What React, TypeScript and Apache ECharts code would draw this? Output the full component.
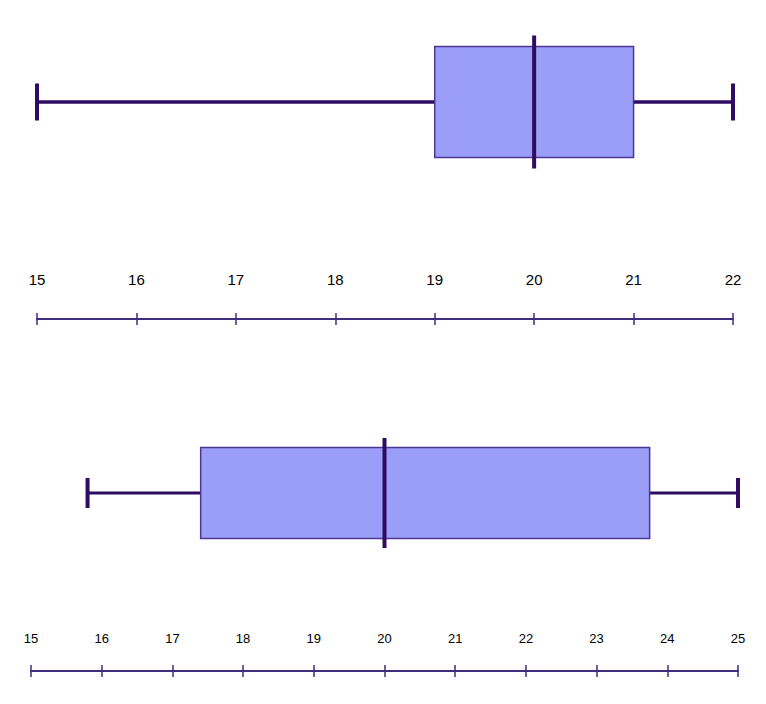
import React, { useEffect, useRef } from "react";
import * as echarts from "echarts";

// Five-number summaries: [min, q1, median, q3, max]
const topStats = [15, 19, 20, 21, 22];
const bottomStats = [15.8, 17.4, 20, 23.75, 25];
const topRange = [15, 22];
const bottomRange = [15, 25];
const categories = ["A"];

const DARK = "#2e0c62";
const FILL = "#9b9ef6";
const BOX_BORDER = "#4b3796";
const AXIS = "#3e2c7e";
const FONT = "'Liberation Sans', Arial, Helvetica, sans-serif";

function makeRender(boxH: number, capH: number, medH: number, whiskW: number) {
  return (params: any, api: any) => {
    const cat = api.value(0);
    const c = (i: number) => api.coord([api.value(i), cat]);
    const pMin = c(1), pQ1 = c(2), pMed = c(3), pQ3 = c(4), pMax = c(5);
    const y = pMin[1];
    return {
      type: "group",
      children: [
        { type: "line", shape: { x1: pMin[0], y1: y, x2: pQ1[0], y2: y }, style: { stroke: DARK, lineWidth: whiskW } },
        { type: "line", shape: { x1: pQ3[0], y1: y, x2: pMax[0], y2: y }, style: { stroke: DARK, lineWidth: whiskW } },
        { type: "line", shape: { x1: pMin[0], y1: y - capH / 2, x2: pMin[0], y2: y + capH / 2 }, style: { stroke: DARK, lineWidth: 4 } },
        { type: "line", shape: { x1: pMax[0], y1: y - capH / 2, x2: pMax[0], y2: y + capH / 2 }, style: { stroke: DARK, lineWidth: 4 } },
        { type: "rect", shape: { x: pQ1[0], y: y - boxH / 2, width: pQ3[0] - pQ1[0], height: boxH }, style: { fill: FILL, stroke: BOX_BORDER, lineWidth: 1.5 } },
        { type: "line", shape: { x1: pMed[0], y1: y - medH / 2, x2: pMed[0], y2: y + medH / 2 }, style: { stroke: DARK, lineWidth: 4 } },
      ],
    };
  };
}

function labelAxis(grid: number, range: number[], fontSize: number, margin: number) {
  return {
    gridIndex: grid, type: "value", min: range[0], max: range[1], interval: 1, position: "top",
    axisLine: { show: true, onZero: false, lineStyle: { color: AXIS, width: 2 } },
    axisTick: { show: true, length: 6, lineStyle: { color: AXIS, width: 1.5 } },
    axisLabel: { show: true, margin, fontSize, color: "#000", fontFamily: FONT },
    splitLine: { show: false },
  };
}
function tickAxis(grid: number, range: number[]) {
  return {
    gridIndex: grid, type: "value", min: range[0], max: range[1], interval: 1, position: "top",
    axisLine: { show: false, onZero: false },
    axisTick: { show: true, inside: true, length: 6, lineStyle: { color: AXIS, width: 1.5 } },
    axisLabel: { show: false },
    splitLine: { show: false },
  };
}

export default function App() {
  const ref = useRef<HTMLDivElement>(null);
  useEffect(() => {
    if (!ref.current) return;
    const chart = echarts.init(ref.current, undefined, { renderer: "svg" });
    chart.setOption({
      animation: false,
      backgroundColor: "#fff",
      grid: [
        { left: 37, width: 696, top: 19, height: 166 },
        { left: 37, width: 696, top: 319, height: 10 },
        { left: 31, width: 707, top: 437, height: 112 },
        { left: 31, width: 707, top: 671, height: 10 },
      ],
      xAxis: [
        { gridIndex: 0, type: "value", min: topRange[0], max: topRange[1], show: false },
        labelAxis(1, topRange, 15, 32),
        tickAxis(1, topRange),
        { gridIndex: 2, type: "value", min: bottomRange[0], max: bottomRange[1], show: false },
        labelAxis(3, bottomRange, 13, 26),
        tickAxis(3, bottomRange),
      ],
      yAxis: [
        { gridIndex: 0, type: "category", data: categories, show: false },
        { gridIndex: 1, type: "value", show: false },
        { gridIndex: 2, type: "category", data: categories, show: false },
        { gridIndex: 3, type: "value", show: false },
      ],
      series: [
        {
          type: "custom", xAxisIndex: 0, yAxisIndex: 0,
          renderItem: makeRender(111, 37, 133, 3.5),
          encode: { y: 0, x: [1, 2, 3, 4, 5] },
          data: [[0, ...topStats]],
          clip: false,
        },
        {
          type: "custom", xAxisIndex: 3, yAxisIndex: 2,
          renderItem: makeRender(91, 30, 110, 3),
          encode: { y: 0, x: [1, 2, 3, 4, 5] },
          data: [[0, ...bottomStats]],
          clip: false,
        },
      ],
    });
    return () => chart.dispose();
  }, []);
  return <div ref={ref} style={{ position: "fixed", left: 0, top: 0, width: 766, height: 704 }} />;
}
